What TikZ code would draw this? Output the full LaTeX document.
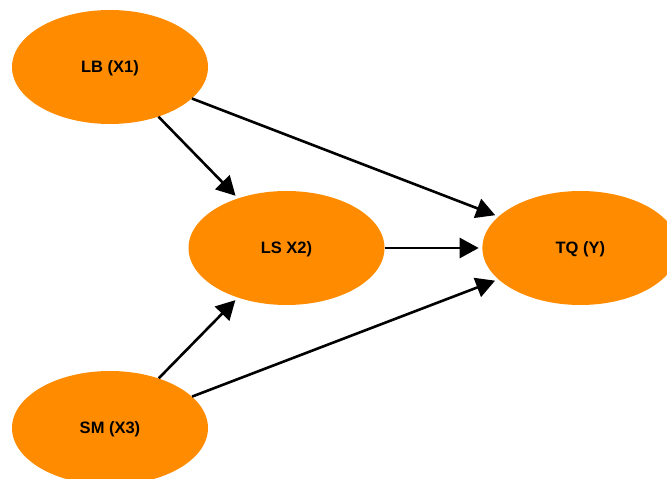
\documentclass[tikz,border=0pt]{standalone}
\usepackage{fontspec}
\setmainfont{Liberation Sans}
\usepackage{tikz}
\usetikzlibrary{positioning,shapes.geometric,arrows.meta}
\definecolor{varorange}{RGB}{255,140,0}

\begin{document}
\begin{tikzpicture}[
		x=1pt, y=1pt
		,every node/.style={ellipse, fill=varorange, minimum width=196pt, minimum height=114pt, inner sep=0pt, text depth=0pt, font=\fontsize{16.5}{18}\selectfont\bfseries}
		,path/.style={line width=2.6pt, -{Triangle[length=19pt,width=20pt]}, shorten >=3.5pt}
		,node distance=97.5pt
	]
		\useasboundingbox (0,0) rectangle (667,479);
		\node (LB) at (110,412) {LB (X1)};
		\node (LS) at (286.5,231) {LS X2)};
		\node[right=of LS] (TQ) {TQ (Y)};
		\node (SM) at (110,51) {SM (X3)};

		\draw[path] (LB) edge (LS);
		\draw[path] (LB) edge (TQ);
		\draw[path] (LS) edge (TQ);
		\draw[path] (SM) edge (LS);
		\draw[path] (SM) edge (TQ);
	\end{tikzpicture}
\end{document}
